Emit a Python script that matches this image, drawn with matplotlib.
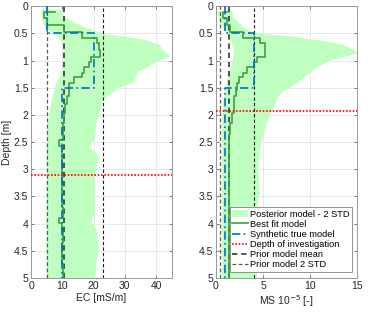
import numpy as np
import matplotlib
matplotlib.use('Agg')
from matplotlib import pyplot as plt

plt.rcParams['font.family'] = ['Liberation Sans', 'DejaVu Sans']

# layer interfaces of the inverted model [m]
interfaces = [0.11, 0.22, 0.345, 0.47, 0.59, 0.68, 0.80, 0.94, 1.02, 1.12,
              1.22, 1.30, 1.42, 1.55, 1.66, 1.80, 1.97, 2.15, 2.35, 2.46,
              2.57, 2.75, 2.95, 3.10, 3.30, 3.50, 3.70, 3.89, 3.99, 4.15,
              4.35, 4.55, 4.75]

ec_best = [7.7, 4.3, 5.0, 10.7, 16.4, 21.0, 21.8, 22.2, 19.2, 18.4,
           16.8, 16.2, 13.6, 12.2, 12.2, 11.5, 11.0, 10.6, 10.3, 10.1,
           9.0, 10.0, 9.8, 10.0, 9.9, 9.8, 9.9, 10.1, 9.0, 9.8,
           10.2, 9.9, 10.0, 10.1]
ms_best = [1.14, 0.71, 1.14, 1.49, 2.9, 4.67, 5.2, 5.2, 4.4, 4.0,
           3.26, 2.9, 2.4, 2.2, 2.1, 1.95, 1.9, 1.66, 1.5, 1.4,
           1.35, 1.4, 1.42, 1.38, 1.35, 1.4, 1.42, 1.38, 1.35, 1.4,
           1.42, 1.38, 1.35, 1.4]

# synthetic true model
true_depth = [0, 0.5, 1.5, 5]
ec_true = [5, 20, 10]
ms_true = [1.0, 4.0, 1.0]

# prior
ec_prior_mean, ec_prior_lo, ec_prior_hi = 10.7, 5.0, 22.9
ms_prior_mean, ms_prior_lo, ms_prior_hi = 1.4, 0.42, 4.07

# depth of investigation
ec_doi = 3.10
ms_doi = 1.93

# posterior 2 STD envelopes
ec_band_depth = [0.05, 0.1, 0.2, 0.3, 0.4, 0.47, 0.5, 0.55, 0.62, 0.7, 0.8, 0.9,
                 0.95, 1.0, 1.1, 1.2, 1.3, 1.4, 1.5, 1.6, 1.7, 1.8, 2.0, 2.2,
                 2.4, 2.5, 2.6, 2.7, 2.8, 3.0, 3.2, 3.4, 3.6, 3.8, 3.97, 4.1,
                 4.3, 4.5, 4.7, 5.0]
ec_band_lo = [3.2, 3.2, 3.3, 3.8, 4.5, 6.6, 7.5, 8.5, 9.5, 10.0, 10.2, 10.3,
              10.3, 10.3, 10.0, 9.6, 9.0, 8.0, 7.5, 7.0, 6.6, 6.2, 5.6, 5.1,
              4.9, 4.8, 4.8, 4.8, 4.8, 4.8, 4.8, 4.8, 4.8, 4.8, 4.6, 4.8,
              4.8, 4.8, 4.8, 4.8]
ec_band_hi = [10.0, 9.5, 11.0, 14.0, 18.0, 22.0, 23.0, 30.0, 37.0, 41.0, 42.0, 44.3,
              43.0, 40.5, 37.5, 34.0, 33.5, 32.5, 28.0, 25.5, 23.0, 22.5, 21.5, 20.5,
              20.5, 19.5, 18.7, 20.8, 21.6, 20.5, 20.2, 20.2, 20.2, 20.2, 19.1, 20.8,
              21.2, 21.6, 20.8, 20.4]

ms_band_depth = [0.08, 0.1, 0.2, 0.3, 0.4, 0.47, 0.5, 0.55, 0.62, 0.7, 0.8, 0.86,
                 0.93, 1.0, 1.1, 1.2, 1.36, 1.48, 1.55, 1.7, 1.85, 2.0, 2.1, 2.34,
                 2.58, 2.8, 3.0, 3.2, 3.4, 3.6, 3.8, 4.0, 4.2, 4.4, 4.6, 4.8, 5.0]
ms_band_lo = [0.1, 0.1, 0.25, 0.45, 0.75, 1.0, 1.1, 1.3, 1.5, 1.65, 1.85, 1.85,
              1.75, 1.7, 1.55, 1.4, 1.15, 0.95, 0.9, 0.75, 0.68, 0.62, 0.6, 0.6,
              0.6, 0.6, 0.6, 0.6, 0.6, 0.6, 0.6, 0.6, 0.6, 0.6, 0.6, 0.6, 0.6]
ms_band_hi = [1.6, 1.7, 1.8, 2.4, 3.0, 4.0, 5.0, 8.0, 11.0, 13.5, 14.6, 15.0,
              13.3, 12.0, 10.8, 10.0, 8.9, 7.9, 7.1, 6.4, 6.1, 5.7, 5.4, 5.0,
              4.67, 4.5, 4.4, 4.5, 4.6, 4.4, 4.3, 4.4, 4.3, 4.3, 4.3, 4.3, 4.3]


def step_path(values, bounds, bottom=5.0):
    xs, ys = [values[0]], [bounds[0]]
    for i in range(1, len(values)):
        top = bounds[i - 1]
        bot = bounds[i] if i < len(bounds) else bottom
        xs += [values[i], values[i]]
        ys += [top, bot]
    return xs, ys


def true_path(values, depths):
    xs, ys = [], []
    for i, v in enumerate(values):
        xs += [v, v]
        ys += [depths[i], depths[i + 1]]
    return xs, ys


band_col = '#bfffbf'
best_col = '#3f9f3f'
true_col = '#0072bd'

fig = plt.figure(figsize=(3.74, 3.14), dpi=100)
ax1 = fig.add_axes([0.083, 0.115, 0.376, 0.865])
ax2 = fig.add_axes([0.5775, 0.115, 0.378, 0.865])

panels = [
    (ax1, ec_band_depth, ec_band_lo, ec_band_hi, ec_best, ec_true,
     (ec_prior_mean, ec_prior_lo, ec_prior_hi), ec_doi, 45, [0, 10, 20, 30, 40],
     'EC [mS/m]'),
    (ax2, ms_band_depth, ms_band_lo, ms_band_hi, ms_best, ms_true,
     (ms_prior_mean, ms_prior_lo, ms_prior_hi), ms_doi, 15, [0, 5, 10, 15],
     r'MS 10$^{-5}$ [-]'),
]

for ax, bd, blo, bhi, best, true, prior, doi, xmax, xt, xl in panels:
    ax.fill_betweenx(bd, blo, bhi, color=band_col, lw=0,
                     label='Posterior model - 2 STD', zorder=1)
    bx, by = step_path(best, interfaces)
    ax.plot(bx, by, color=best_col, lw=1.2, label='Best fit model', zorder=4)
    tx, ty = true_path(true, true_depth)
    ax.plot(tx, ty, color=true_col, lw=1.2, ls=(0, (5, 2, 1, 2)),
            label='Synthetic true model', zorder=5)
    ax.axhline(doi, color='red', lw=1.2, ls=(0, (1, 1)),
               label='Depth of investigation', zorder=6)
    ax.axvline(prior[0], color='0.15', lw=1.1, ls=(0, (3.5, 2.5)),
               label='Prior model mean', zorder=3)
    ax.axvline(prior[1], color='0.35', lw=0.9, ls=(0, (3, 2)),
               label='Prior model 2 STD', zorder=3)
    ax.axvline(prior[2], color='0.1', lw=0.8, ls=(0, (3, 2)), zorder=3)

    ax.set_xlim(0, xmax)
    ax.set_ylim(5, 0)
    ax.set_xticks(xt)
    ax.set_yticks(np.arange(0, 5.01, 0.5))
    ax.set_yticklabels(['0', '0.5', '1', '1.5', '2', '2.5', '3', '3.5', '4', '4.5', '5'])
    ax.grid(True, color='0.88', lw=0.5)
    ax.set_axisbelow(True)
    ax.tick_params(direction='in', length=2.5, width=0.5, labelsize=7.5,
                   colors='0.3', labelcolor='0.15', top=True, right=True, pad=2)
    for s in ax.spines.values():
        s.set_color('0.6')
        s.set_linewidth(0.7)
    ax.set_xlabel(xl, fontsize=7.5, color='0.15', labelpad=2)

ax1.set_ylabel('Depth [m]', fontsize=7.5, color='0.15', labelpad=1)

leg = ax2.legend(loc='lower right', bbox_to_anchor=(0.941, 0.134),
                 bbox_transform=fig.transFigure, fontsize=6.7, handlelength=1.7,
                 handletextpad=0.15, labelspacing=0.12, borderpad=0.3,
                 borderaxespad=0, fancybox=False, framealpha=1)
leg.get_frame().set_edgecolor('0.5')
leg.get_frame().set_linewidth(0.6)

fig.savefig('out.png', dpi=100)
